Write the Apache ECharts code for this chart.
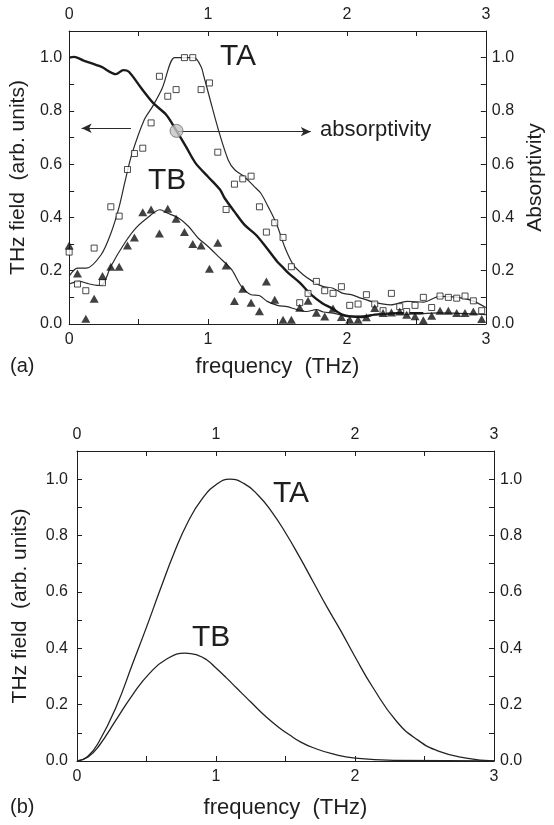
<!DOCTYPE html>
<html>
<head>
<meta charset="utf-8">
<script src="https://cdn.jsdelivr.net/npm/echarts@6/dist/echarts.min.js"></script>
<style>
  html, body { margin: 0; padding: 0; background: #fff; }
  #chart { width: 554px; height: 825px; }
</style>
</head>
<body>
<div id="chart"></div>
<script>
// ---------- Panel (a): measured data ----------
const freqMeasured = [0.00, 0.06, 0.12, 0.18, 0.24, 0.30, 0.36, 0.42, 0.47, 0.53,
  0.59, 0.65, 0.71, 0.77, 0.83, 0.89, 0.95, 1.01, 1.07, 1.13,
  1.19, 1.25, 1.31, 1.37, 1.42, 1.48, 1.54, 1.60, 1.66, 1.72,
  1.78, 1.84, 1.90, 1.96, 2.02, 2.08, 2.14, 2.20, 2.26, 2.32,
  2.38, 2.43, 2.49, 2.55, 2.61, 2.67, 2.73, 2.79, 2.85, 2.91, 2.97];

const taSquares = [0.27, 0.15, 0.125, 0.285, 0.155, 0.44, 0.405, 0.58, 0.64, 0.66,
  0.755, 0.93, 0.855, 0.88, 1.00, 1.00, 0.88, 0.905, 0.645, 0.43,
  0.525, 0.545, 0.555, 0.44, 0.345, 0.38, 0.325, 0.215, 0.08, 0.115,
  0.16, 0.125, 0.115, 0.14, 0.07, 0.075, 0.11, 0.075, 0.05, 0.115,
  0.065, 0.047, 0.07, 0.10, 0.062, 0.105, 0.10, 0.097, 0.105, 0.087, 0.05];

const tbTriangles = [0.295, 0.19, 0.02, 0.095, 0.18, 0.215, 0.215, 0.295, 0.325, 0.42,
  0.43, 0.34, 0.433, 0.395, 0.345, 0.30, 0.295, 0.207, 0.305, 0.22,
  0.086, 0.132, 0.08, 0.048, 0.16, 0.091, 0.016, 0.016, 0.061, 0.087,
  0.042, 0.028, 0.058, 0.026, 0.016, 0.016, 0.025, 0.06, 0.041, 0.043,
  0.047, 0.035, 0.029, 0.014, 0.031, 0.05, 0.05, 0.041, 0.041, 0.047, 0.019];

const taSmoothTop = [[0, 0.18], [0.06, 0.21], [0.125, 0.21], [0.23, 0.26], [0.30, 0.34], [0.36, 0.44],
  [0.40, 0.53], [0.45, 0.635], [0.54, 0.766], [0.60, 0.816], [0.67, 0.885], [0.76, 1.0],
  [0.83, 1.0], [0.90, 1.0], [0.95, 0.966], [0.97, 0.93], [1.016, 0.84], [1.075, 0.728],
  [1.145, 0.616], [1.192, 0.579], [1.262, 0.553], [1.333, 0.516], [1.38, 0.491], [1.438, 0.435],
  [1.496, 0.372], [1.555, 0.285], [1.614, 0.222], [1.685, 0.185], [1.754, 0.16], [1.825, 0.141],
  [1.895, 0.135], [1.966, 0.116], [2.03, 0.11], [2.08, 0.101], [2.199, 0.081], [2.316, 0.072],
  [2.433, 0.085], [2.55, 0.082], [2.668, 0.104], [2.785, 0.101], [2.902, 0.088], [3.0, 0.062]];

const tbSmoothTop = [[0, 0.15], [0.07, 0.16], [0.14, 0.151], [0.2, 0.145], [0.245, 0.15], [0.3, 0.216],
  [0.4, 0.304], [0.48, 0.36], [0.56, 0.397], [0.653, 0.429], [0.71, 0.416], [0.79, 0.397],
  [0.86, 0.366], [0.93, 0.322], [1.0, 0.291], [1.075, 0.253], [1.17, 0.204], [1.24, 0.141],
  [1.31, 0.11], [1.368, 0.107], [1.426, 0.085], [1.5, 0.07], [1.57, 0.065], [1.64, 0.054],
  [1.71, 0.047], [1.78, 0.054], [1.83, 0.045], [1.9, 0.041], [2.01, 0.029], [2.1, 0.03],
  [2.2, 0.035], [2.35, 0.04], [2.5, 0.038], [2.65, 0.042], [2.8, 0.04], [2.9, 0.038], [3.0, 0.035]];

const absorptivity = [[0, 1.0], [0.035, 1.003], [0.1, 0.99], [0.23, 0.966], [0.337, 0.938], [0.39, 0.953],
  [0.43, 0.947], [0.52, 0.885], [0.606, 0.829], [0.7, 0.785], [0.773, 0.725], [0.841, 0.666],
  [0.91, 0.604], [1.0, 0.553], [1.087, 0.504], [1.12, 0.472], [1.19, 0.422], [1.263, 0.372],
  [1.344, 0.335], [1.414, 0.291], [1.497, 0.235], [1.544, 0.21], [1.579, 0.191], [1.66, 0.155],
  [1.742, 0.11], [1.825, 0.077], [1.895, 0.058], [1.965, 0.035], [2.012, 0.029], [2.106, 0.026],
  [2.2, 0.035], [2.363, 0.041], [2.55, 0.041]];

const crossingPoint = [[0.773, 0.725]];
const leftArrow = [[0.445, 0.735], [0.09, 0.735]];
const rightArrow = [[0.773, 0.722], [1.74, 0.722]];

// ---------- Panel (b): calculated spectra ----------
const taCalc = [[0, 0], [0.08, 0.018], [0.16, 0.07], [0.28, 0.19], [0.4, 0.345], [0.5, 0.475],
  [0.6, 0.61], [0.7, 0.74], [0.8, 0.85], [0.9, 0.93], [1.0, 0.98], [1.1, 1.0],
  [1.2, 0.985], [1.3, 0.945], [1.4, 0.885], [1.5, 0.81], [1.6, 0.725], [1.7, 0.635],
  [1.8, 0.545], [1.9, 0.46], [2.0, 0.37], [2.13, 0.26], [2.3, 0.14], [2.45, 0.075],
  [2.6, 0.035], [2.8, 0.01], [3.0, 0]];

const tbCalc = [[0, 0], [0.08, 0.014], [0.16, 0.055], [0.28, 0.145], [0.4, 0.235], [0.52, 0.31],
  [0.64, 0.36], [0.78, 0.383], [0.87, 0.375], [0.93, 0.36], [1.0, 0.33], [1.075, 0.295],
  [1.15, 0.258], [1.22, 0.224], [1.29, 0.19], [1.36, 0.157], [1.45, 0.12], [1.53, 0.092],
  [1.61, 0.067], [1.7, 0.047], [1.84, 0.025], [2.0, 0.01], [2.3, 0.002], [3.0, 0]];

// ---------- Axis setup ----------
const FONT = 'Liberation Sans, Arial, Helvetica, sans-serif';
const INK = '#1e1e1e';

const yFmt = v => { const k = Math.round(v * 10); return (k % 2 === 0 && k <= 10) ? (k / 10).toFixed(1) : ''; };
const xFmt = v => { const k = Math.round(v * 2); return (k % 2 === 0) ? String(k / 2) : ''; };

function xAx(grid, pos, name, gap) {
  return {
    type: 'value', gridIndex: grid, position: pos, min: 0, max: 3, interval: 0.5,
    name: name || '', nameLocation: 'middle', nameGap: gap || 0,
    nameTextStyle: { fontFamily: FONT, fontSize: 22, color: INK },
    axisLine: { show: true, onZero: false, lineStyle: { color: INK, width: 1 } },
    axisTick: { show: true, inside: true, length: 5, lineStyle: { color: INK } },
    axisLabel: { formatter: xFmt, fontFamily: FONT, fontSize: 16, color: INK, margin: 8 },
    splitLine: { show: false }
  };
}
function yAx(grid, pos, name, gap, margin) {
  return {
    type: 'value', gridIndex: grid, position: pos, min: 0, max: 1.1, interval: 0.1,
    name: name || '', nameLocation: 'middle', nameGap: gap || 0, nameRotate: 90,
    nameTextStyle: { fontFamily: FONT, fontSize: 21, color: INK },
    axisLine: { show: true, onZero: false, lineStyle: { color: INK, width: 1 } },
    axisTick: { show: true, inside: true, length: 5, lineStyle: { color: INK } },
    axisLabel: { formatter: yFmt, fontFamily: FONT, fontSize: 16, color: INK, margin: margin },
    splitLine: { show: false }
  };
}

const chart = echarts.init(document.getElementById('chart'), null, { renderer: 'canvas' });

const option = {
  backgroundColor: '#ffffff',
  animation: false,
  grid: [
    { left: 67, right: 60, top: 31, height: 293 },
    { left: 77, right: 60, top: 451, height: 310 }
  ],
  xAxis: [
    xAx(0, 'bottom', 'frequency  (THz)', 32),
    xAx(0, 'top'),
    xAx(1, 'bottom', 'frequency  (THz)', 36),
    xAx(1, 'top')
  ],
  yAxis: [
    yAx(0, 'left', 'THz field  (arb. units)', 36, 7),
    yAx(0, 'right', 'Absorptivity', 39, 6),
    yAx(1, 'left', 'THz field  (arb. units)', 46, 9),
    yAx(1, 'right', '', 0, 6)
  ],
  graphic: [
    { type: 'text', left: 220, top: 42, style: { text: 'TA', font: '30px ' + FONT, fill: INK } },
    { type: 'text', left: 148, top: 166, style: { text: 'TB', font: '30px ' + FONT, fill: INK } },
    { type: 'text', left: 320, top: 119, style: { text: 'absorptivity', font: '22px ' + FONT, fill: INK } },
    { type: 'text', left: 10, top: 356, style: { text: '(a)', font: '20px ' + FONT, fill: INK } },
    { type: 'text', left: 273, top: 479, style: { text: 'TA', font: '30px ' + FONT, fill: INK } },
    { type: 'text', left: 192, top: 623, style: { text: 'TB', font: '30px ' + FONT, fill: INK } },
    { type: 'text', left: 10, top: 797, style: { text: '(b)', font: '20px ' + FONT, fill: INK } }
  ],
  series: [
    {
      name: 'TA fit', type: 'line', xAxisIndex: 0, yAxisIndex: 0,
      data: taSmoothTop, smooth: 0.3, showSymbol: false,
      lineStyle: { color: '#2a2a2a', width: 1.2 }, z: 3
    },
    {
      name: 'TB fit', type: 'line', xAxisIndex: 0, yAxisIndex: 0,
      data: tbSmoothTop, smooth: 0.3, showSymbol: false,
      lineStyle: { color: '#2a2a2a', width: 1.2 }, z: 3
    },
    {
      name: 'absorptivity', type: 'line', xAxisIndex: 0, yAxisIndex: 1,
      data: absorptivity, smooth: 0.3, showSymbol: false,
      lineStyle: { color: '#1a1a1a', width: 2.4 }, z: 4
    },
    {
      name: 'arrows', type: 'line', xAxisIndex: 0, yAxisIndex: 1,
      data: [], z: 4,
      markLine: {
        silent: true, symbol: ['none', 'arrow'], symbolSize: [7, 10],
        label: { show: false },
        itemStyle: { color: '#2a2a2a' },
        lineStyle: { color: '#2a2a2a', width: 1.2, type: 'solid' },
        emphasis: { disabled: true },
        data: [
          [{ coord: leftArrow[0] }, { coord: leftArrow[1] }],
          [{ coord: rightArrow[0] }, { coord: rightArrow[1] }]
        ]
      }
    },
    {
      name: 'TA data', type: 'scatter', xAxisIndex: 0, yAxisIndex: 0,
      data: freqMeasured.map((f, i) => [f, taSquares[i]]),
      symbol: 'rect', symbolSize: 6,
      itemStyle: { color: '#ffffff', borderColor: '#1e1e1e', borderWidth: 1 }, z: 5
    },
    {
      name: 'TB data', type: 'scatter', xAxisIndex: 0, yAxisIndex: 0,
      data: freqMeasured.map((f, i) => [f, tbTriangles[i]]),
      symbol: 'triangle', symbolSize: [9, 8],
      itemStyle: { color: '#111111' }, z: 5
    },
    {
      name: 'crossing', type: 'scatter', xAxisIndex: 0, yAxisIndex: 1,
      data: crossingPoint, symbol: 'circle', symbolSize: 13,
      itemStyle: { color: '#c4c4c4', borderColor: '#6a6a6a', borderWidth: 1 }, z: 6
    },
    {
      name: 'TA calc', type: 'line', xAxisIndex: 2, yAxisIndex: 2,
      data: taCalc, smooth: 0.5, showSymbol: false,
      lineStyle: { color: '#222222', width: 1.3 }
    },
    {
      name: 'TB calc', type: 'line', xAxisIndex: 2, yAxisIndex: 2,
      data: tbCalc, smooth: 0.5, showSymbol: false,
      lineStyle: { color: '#222222', width: 1.3 }
    }
  ]
};
chart.setOption(option);
</script>
</body>
</html>
